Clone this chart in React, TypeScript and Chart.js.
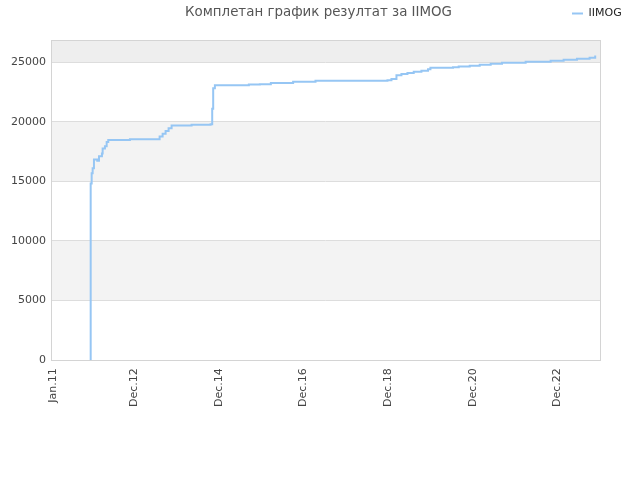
import { useEffect, useRef } from 'react';
import Chart from 'chart.js/auto';
import type { ChartConfiguration, Plugin } from 'chart.js';

const chartTitle = 'Комплетан график резултат за IIMOG';
const seriesName = 'IIMOG';

// months counted from Jan.11
const months = [
  10.74, 10.74, 11.02, 11.3, 11.67, 12.6, 13.09, 13.93, 14.13, 14.78, 15.27, 15.72,
  21.86, 29.42, 30.27, 31.12, 31.96, 32.81, 33.66, 39.32, 44.7, 44.99, 45.16, 45.44,
  45.92, 52.23, 55.54, 58.66, 61.77, 68.08, 74.42, 94.8, 95.93, 97.35, 98.76, 100.46,
  102.24, 104.42, 106.29, 106.97, 113.37, 114.98, 118.1, 120.93, 124.04, 127.24,
  133.94, 141.02, 144.7, 148.47, 152.06, 153.56, 153.64,
];
const scores = [
  0, 14825, 15690, 16100, 16840, 16720, 17100, 17340, 17760, 17950, 18310, 18480,
  18540, 18540, 18770, 19000, 19230, 19460, 19690, 19740, 19800, 19800, 21100, 22800,
  23070, 23070, 23130, 23155, 23260, 23350, 23430, 23490, 23580, 23910, 24000, 24080,
  24190, 24270, 24410, 24520, 24580, 24640, 24700, 24780, 24860, 24940,
  25030, 25110, 25190, 25280, 25360, 25360, 25560,
];

const tickMonths = [0, 23, 47, 71, 95, 119, 143];
const tickLabels = ['Jan.11', 'Dec.12', 'Dec.14', 'Dec.16', 'Dec.18', 'Dec.20', 'Dec.22'];
const yTicks = [0, 5000, 10000, 15000, 20000, 25000];

const yMax = 26850;
const shadedBands = [
  [5000, 10000],
  [15000, 20000],
  [25000, yMax],
];

const plotBands: Plugin<'line'> = {
  id: 'plotBands',
  beforeDraw(chart) {
    const { ctx, chartArea, scales } = chart;
    const y = scales.y;
    ctx.save();
    shadedBands.forEach(([from, to], i) => {
      const top = y.getPixelForValue(to);
      const bottom = y.getPixelForValue(from);
      ctx.fillStyle = i === shadedBands.length - 1 ? '#eeeeee' : '#f3f3f3';
      ctx.fillRect(chartArea.left, top, chartArea.right - chartArea.left, bottom - top);
    });
    ctx.restore();
  },
  beforeDatasetsDraw(chart) {
    const { ctx, chartArea } = chart;
    ctx.save();
    ctx.strokeStyle = '#d4d4d4';
    ctx.lineWidth = 1;
    ctx.strokeRect(
      Math.round(chartArea.left) + 0.5,
      Math.round(chartArea.top) + 0.5,
      Math.round(chartArea.right - chartArea.left),
      Math.round(chartArea.bottom - chartArea.top),
    );
    ctx.restore();
  },
};

// title centred on the whole canvas, legend up in the title row at the right
const headerRow: Plugin<'line'> = {
  id: 'headerRow',
  afterLayout(chart) {
    const title = (chart as any).titleBlock;
    if (title) {
      title.left = 0;
      title.right = 637;
      title.width = 637;
    }
    const legend = (chart as any).legend;
    if (!legend) return;
    legend.left = 562;
    legend.right = 640;
    legend.top = -2;
    legend.bottom = 26;
    legend.width = 78;
    legend.height = 28;
  },
};

const App = () => {
  const canvasRef = useRef<HTMLCanvasElement>(null);

  useEffect(() => {
    if (!canvasRef.current) {
      return;
    }

    const config: ChartConfiguration<'line'> = {
      type: 'line',
      data: {
        datasets: [
          {
            label: seriesName,
            data: months.map((m, i) => ({ x: m, y: scores[i] })),
            borderColor: '#96c6f4',
            backgroundColor: '#96c6f4',
            borderWidth: 2,
            pointRadius: 0,
            stepped: true,
            fill: false,
          },
        ],
      },
      options: {
        animation: false,
        responsive: true,
        maintainAspectRatio: false,
        layout: { padding: { left: 6, right: 40, top: 0, bottom: 65 } },
        plugins: {
          title: {
            display: true,
            text: chartTitle,
            color: '#555555',
            font: { size: 13.4, weight: 'normal' },
            padding: { top: 4, bottom: 20 },
          },
          legend: {
            position: 'chartArea',
            align: 'start',
            labels: {
              usePointStyle: true,
              pointStyle: 'line',
              pointStyleWidth: 11,
              boxWidth: 11,
              boxHeight: 11,
              color: '#222222',
              font: { size: 11 },
            },
          },
          tooltip: { enabled: false },
        },
        scales: {
          x: {
            type: 'linear',
            min: -0.5,
            max: 155,
            grid: { display: false, drawTicks: false },
            border: { display: false },
            afterBuildTicks: (axis) => {
              axis.ticks = tickMonths.map((v) => ({ value: v }));
            },
            ticks: {
              autoSkip: false,
              maxRotation: 90,
              minRotation: 90,
              padding: 8,
              color: '#444444',
              font: { size: 11 },
              callback: (value) => tickLabels[tickMonths.indexOf(Number(value))] ?? '',
            },
          },
          y: {
            min: 0,
            max: yMax,
            grid: { color: '#dddddd', drawTicks: false },
            border: { display: false },
            afterBuildTicks: (axis) => {
              axis.ticks = yTicks.map((v) => ({ value: v }));
            },
            ticks: {
              padding: 5,
              color: '#444444',
              font: { size: 11 },
              callback: (value) => String(value),
            },
          },
        },
      },
      plugins: [plotBands, headerRow],
    };

    Chart.defaults.font.family = '"DejaVu Sans", sans-serif';
    const chart = new Chart(canvasRef.current, config);

    return () => {
      chart.destroy();
    };
  }, []);

  return (
    <div style={{ position: 'fixed', left: 0, top: 0, width: 640, height: 480, background: '#ffffff' }}>
      <canvas ref={canvasRef} />
    </div>
  );
};

export default App;
